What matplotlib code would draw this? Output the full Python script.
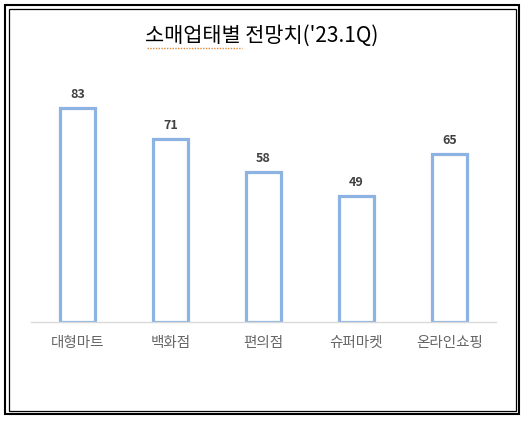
import matplotlib

matplotlib.use("Agg")
import matplotlib.pyplot as plt
from matplotlib.lines import Line2D
from matplotlib.patches import Rectangle

plt.rcParams["font.family"] = ["Noto Sans CJK KR", "DejaVu Sans"]

categories = ["대형마트", "백화점", "편의점", "슈퍼마켓", "온라인쇼핑"]
values = [83, 71, 58, 49, 65]
title = "소매업태별 전망치('23.1Q)"

W, H = 528, 424
fig = plt.figure(figsize=(W / 100, H / 100), dpi=100)
ax = fig.add_axes([31 / W, 102 / H, 465 / W, 258 / H])

x = range(len(categories))
ax.bar(x, values, width=0.37, facecolor="white", edgecolor="#8db3e2", linewidth=2.3)
for xi, v in zip(x, values):
    ax.annotate(str(v), (xi, v), xytext=(0, 5), textcoords="offset points",
                ha="center", va="bottom", fontsize=9, fontweight="bold", color="#404040")

ax.set_xlim(-0.5, len(categories) - 0.5)
ax.set_ylim(0, 100)
ax.set_xticks(list(x))
ax.set_xticklabels(categories, fontsize=10.5, color="#666666")
ax.tick_params(axis="x", length=0, pad=10)
ax.set_yticks([])
for side in ("top", "left", "right"):
    ax.spines[side].set_visible(False)
ax.spines["bottom"].set_color("#d9d9d9")
ax.spines["bottom"].set_linewidth(1.0)

fig.text(262 / W, 1 - 36 / H, title, ha="center", va="center", fontsize=15,
         fontweight="medium", color="black")
# spell-check style dotted underline under the first word
fig.add_artist(Line2D([147 / W, 242 / W], [1 - 48 / H, 1 - 48 / H], color="#e0893a",
                      linewidth=1.0, linestyle=(0, (1, 1))))

# double border around the chart
fig.add_artist(Rectangle((5 / W, 1 - 414 / H), 514 / W, 409 / H, fill=False,
                         edgecolor="black", linewidth=1.5, transform=fig.transFigure))
fig.add_artist(Rectangle((9 / W, 1 - 411 / H), 507 / W, 402 / H, fill=False,
                         edgecolor="black", linewidth=0.9, transform=fig.transFigure))

fig.savefig("out.png", dpi=100)
